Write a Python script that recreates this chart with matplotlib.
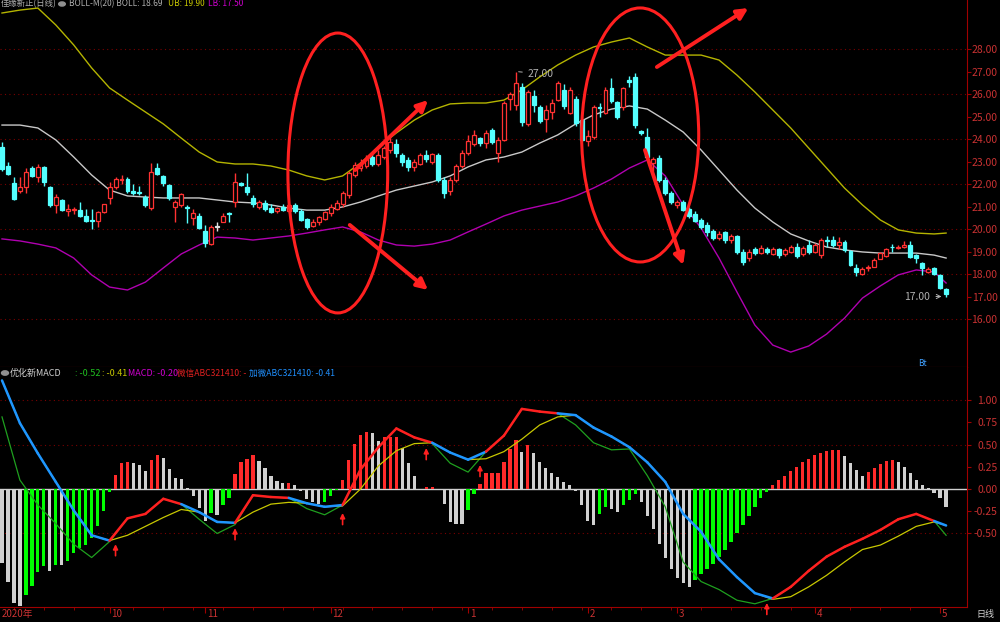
import numpy as np
import matplotlib
matplotlib.use('Agg')
import matplotlib.pyplot as plt
from matplotlib.patches import Ellipse
from matplotlib.collections import LineCollection
from matplotlib.transforms import blended_transform_factory

# ---- daily candles ----
opens = [23.64, 22.80, 22.04, 21.69, 21.87, 22.71, 22.31, 22.76, 21.87, 21.07,
         21.29, 20.82, 20.83, 20.84, 20.58, 20.40, 20.36, 20.76, 21.38, 21.87,
         22.18, 22.22, 21.70, 21.65, 21.42, 20.93, 22.71, 22.36, 21.96, 20.98,
         21.07, 21.00, 20.50, 20.58, 19.91, 19.33, 20.10, 20.33, 20.72, 21.20,
         22.04, 21.87, 21.40, 21.00, 21.15, 20.95, 20.80, 21.00, 20.80, 21.05,
         20.80, 20.45, 20.15, 20.30, 20.45, 20.70, 20.90, 21.10, 21.50, 22.40,
         22.70, 22.80, 23.20, 22.90, 23.20, 23.50, 23.80, 23.30, 23.05, 22.75,
         22.90, 23.30, 23.00, 23.30, 22.20, 21.70, 22.20, 22.80, 23.40, 23.80,
         24.04, 23.82, 24.40, 23.38, 23.96, 25.80, 25.50, 26.31, 24.67, 25.90,
         25.42, 24.89, 25.20, 25.73, 26.20, 25.16, 25.78, 24.84, 23.91, 24.09,
         25.42, 25.16, 26.27, 25.64, 25.42, 26.62, 26.76, 24.35, 24.09, 22.95,
         23.15, 22.20, 21.60, 21.05, 21.20, 20.90, 20.65, 20.40, 20.20, 19.90,
         19.60, 19.85, 19.50, 19.70, 19.00, 18.70, 19.10, 18.95, 19.10, 18.90,
         19.10, 18.90, 19.00, 19.20, 18.90, 19.30, 19.00, 18.84, 19.52, 19.50,
         19.29, 19.42, 19.02, 18.27, 18.00, 18.27, 18.31, 18.67, 18.80, 19.20,
         19.15, 19.22, 19.29, 18.84, 18.49, 18.09, 18.27, 17.96, 17.33]
highs = [23.85, 23.00, 22.30, 22.30, 22.70, 22.80, 22.90, 22.80, 21.90, 21.55,
         21.35, 21.10, 21.00, 21.20, 20.90, 20.90, 20.80, 21.10, 22.10, 22.30,
         22.40, 22.30, 22.00, 21.90, 21.50, 22.93, 22.93, 22.40, 22.00, 21.30,
         21.60, 21.05, 20.90, 20.70, 20.20, 20.20, 20.30, 20.70, 20.75, 22.50,
         22.10, 22.50, 21.50, 21.30, 21.30, 21.10, 21.00, 21.10, 21.10, 21.15,
         20.90, 20.50, 20.45, 20.60, 20.80, 21.10, 21.30, 21.70, 22.60, 23.00,
         23.10, 23.30, 23.40, 23.50, 23.70, 24.10, 24.00, 23.40, 23.20, 23.10,
         23.40, 23.50, 23.40, 23.40, 22.30, 22.30, 22.90, 23.50, 24.20, 24.40,
         24.10, 24.40, 24.50, 24.10, 25.70, 26.10, 27.00, 26.50, 26.20, 26.20,
         25.50, 25.50, 25.80, 26.60, 26.45, 26.30, 25.90, 24.90, 24.40, 25.50,
         25.60, 26.30, 26.70, 25.70, 26.30, 26.78, 26.95, 24.40, 24.50, 23.20,
         23.30, 22.30, 21.70, 21.30, 21.30, 21.00, 20.80, 20.50, 20.30, 20.00,
         19.90, 19.90, 19.80, 19.75, 19.10, 19.10, 19.20, 19.30, 19.20, 19.20,
         19.15, 19.15, 19.30, 19.40, 19.25, 19.50, 19.40, 19.60, 19.70, 19.70,
         19.65, 19.50, 19.05, 18.45, 18.30, 18.40, 18.70, 19.00, 19.15, 19.35,
         19.30, 19.45, 19.45, 18.90, 18.55, 18.30, 18.30, 17.98, 17.40]
lows = [22.60, 22.40, 21.30, 21.60, 21.60, 22.30, 22.10, 21.90, 21.00, 20.70,
        20.80, 20.60, 20.65, 20.55, 20.30, 20.00, 20.10, 20.70, 21.10, 21.80,
        22.00, 21.60, 21.50, 21.50, 21.00, 20.84, 22.40, 21.90, 21.30, 20.30,
        21.00, 20.27, 20.20, 20.00, 19.20, 19.30, 19.90, 20.30, 20.33, 21.00,
        21.90, 21.50, 21.00, 20.90, 20.80, 20.70, 20.70, 20.80, 20.70, 20.70,
        20.35, 20.00, 20.10, 20.20, 20.40, 20.60, 20.85, 21.00, 21.40, 22.30,
        22.60, 22.70, 22.80, 22.80, 23.10, 23.40, 23.20, 22.80, 22.60, 22.60,
        22.85, 23.00, 22.90, 22.10, 21.40, 21.50, 22.10, 22.70, 23.30, 23.70,
        23.70, 23.60, 23.80, 23.00, 23.90, 25.30, 25.30, 24.60, 24.60, 25.20,
        24.70, 24.30, 24.90, 25.70, 25.35, 25.10, 24.60, 23.90, 23.70, 24.00,
        25.00, 25.10, 25.60, 24.90, 25.30, 26.30, 24.50, 24.20, 23.10, 22.60,
        22.10, 21.50, 21.10, 20.95, 20.80, 20.50, 20.30, 20.00, 19.70, 19.50,
        19.50, 19.40, 19.40, 18.90, 18.40, 18.60, 18.85, 18.90, 18.90, 18.85,
        18.70, 18.80, 18.95, 18.70, 18.80, 18.90, 18.95, 18.70, 19.20, 19.20,
        19.10, 19.00, 18.35, 17.90, 17.95, 18.15, 18.30, 18.65, 18.75, 19.00,
        19.10, 19.15, 18.70, 18.50, 17.95, 18.05, 17.95, 17.35, 17.00]
closes = [22.67, 22.44, 21.33, 21.87, 22.53, 22.36, 22.76, 22.09, 21.07, 21.42,
          20.84, 20.87, 20.87, 20.58, 20.36, 20.36, 20.76, 21.11, 21.87, 22.22,
          22.22, 21.69, 21.60, 21.58, 21.07, 22.53, 22.44, 22.04, 21.38, 21.20,
          21.56, 20.93, 20.71, 20.04, 19.38, 20.09, 20.10, 20.58, 20.66, 22.09,
          21.96, 21.64, 21.10, 21.20, 20.90, 20.75, 20.95, 20.85, 21.05, 20.80,
          20.40, 20.10, 20.30, 20.55, 20.75, 21.00, 21.15, 21.60, 22.50, 22.85,
          22.95, 23.15, 22.90, 23.30, 23.60, 23.85, 23.40, 23.00, 22.75, 23.00,
          23.30, 23.10, 23.35, 22.20, 21.60, 22.20, 22.80, 23.40, 23.90, 24.20,
          23.82, 24.27, 23.87, 23.96, 25.60, 26.00, 26.50, 24.76, 26.09, 25.50,
          24.80, 25.29, 25.60, 26.50, 25.47, 26.20, 24.71, 23.96, 24.13, 25.42,
          25.36, 26.18, 25.69, 24.98, 26.27, 26.55, 24.62, 24.25, 23.20, 23.10,
          22.20, 21.60, 21.20, 21.20, 20.85, 20.60, 20.35, 20.10, 19.85, 19.60,
          19.80, 19.50, 19.70, 19.00, 18.55, 19.00, 18.95, 19.15, 19.00, 19.10,
          18.85, 19.05, 19.20, 18.80, 19.15, 19.00, 19.30, 19.51, 19.48, 19.30,
          19.42, 19.07, 18.40, 18.09, 18.22, 18.33, 18.62, 18.93, 19.10, 19.18,
          19.22, 19.27, 18.76, 18.71, 18.27, 18.22, 18.00, 17.38, 17.11]

# ---- BOLL lines and MACD lines, read every 3 bars ----
line_idx = list(range(0, 157, 3)) + [158]
boll_up = [29.60, 29.73, 29.82, 29.07, 28.18, 27.16, 26.27, 25.73, 25.20, 24.67,
           24.04, 23.42, 22.98, 22.89, 22.89, 22.80, 22.62, 22.36, 22.18, 22.36,
           22.93, 23.64, 24.27, 24.84, 25.29, 25.56, 25.60, 25.60, 25.73, 26.18,
           26.76, 27.29, 27.73, 28.09, 28.31, 28.49, 28.09, 27.73, 27.73, 27.73,
           27.51, 26.84, 26.09, 25.29, 24.49, 23.60, 22.71, 21.82, 21.07, 20.40,
           19.96, 19.82, 19.78, 19.82]
boll_mid = [24.62, 24.62, 24.49, 23.96, 23.20, 22.40, 21.73, 21.47, 21.42, 21.38,
            21.38, 21.38, 21.29, 21.20, 21.16, 21.07, 20.93, 20.84, 20.84, 20.98,
            21.20, 21.47, 21.73, 21.91, 22.09, 22.36, 22.76, 23.07, 23.20, 23.42,
            23.82, 24.18, 24.67, 25.07, 25.33, 25.47, 25.33, 24.84, 24.31, 23.51,
            22.62, 21.73, 20.93, 20.31, 19.78, 19.47, 19.20, 19.07, 18.98, 18.93,
            18.93, 18.93, 18.84, 18.71]
boll_low = [19.56, 19.47, 19.33, 19.16, 18.71, 17.96, 17.42, 17.29, 17.64, 18.27,
            18.89, 19.29, 19.64, 19.60, 19.51, 19.60, 19.69, 19.82, 19.96, 20.09,
            19.87, 19.51, 19.29, 19.24, 19.33, 19.51, 19.87, 20.22, 20.58, 20.84,
            21.02, 21.20, 21.47, 21.82, 22.22, 22.71, 23.07, 22.36, 21.07, 20.04,
            18.71, 17.20, 15.73, 14.84, 14.53, 14.80, 15.33, 16.04, 16.93, 17.47,
            17.96, 18.18, 18.09, 17.60]
macd_green = [0.81, 0.10, -0.18, -0.39, -0.62, -0.77, -0.59, -0.33, -0.28, -0.11,
              -0.17, -0.34, -0.50, -0.40, -0.07, -0.09, -0.10, -0.22, -0.29, -0.18,
              0.22, 0.47, 0.68, 0.58, 0.51, 0.29, 0.19, 0.42, 0.60, 0.90,
              0.87, 0.85, 0.72, 0.52, 0.44, 0.45, 0.15, -0.20, -0.82, -1.04,
              -1.13, -1.25, -1.29, -1.23, -1.10, -0.92, -0.76, -0.65, -0.56, -0.46,
              -0.34, -0.28, -0.36, -0.52]
macd_yellow = [1.22, 0.74, 0.40, 0.08, -0.24, -0.52, -0.58, -0.52, -0.42, -0.32,
               -0.23, -0.26, -0.37, -0.38, -0.26, -0.17, -0.15, -0.16, -0.20, -0.19,
               0.00, 0.26, 0.43, 0.51, 0.52, 0.41, 0.33, 0.34, 0.42, 0.56,
               0.72, 0.81, 0.83, 0.69, 0.59, 0.47, 0.30, 0.08, -0.28, -0.48,
               -0.79, -0.99, -1.17, -1.24, -1.21, -1.10, -0.97, -0.82, -0.68, -0.63,
               -0.53, -0.42, -0.37, -0.41]
macd_hist = [-0.83, -1.04, -1.28, -1.31, -1.19, -1.09, -0.93, -0.87, -0.92, -0.85,
             -0.85, -0.81, -0.72, -0.66, -0.63, -0.55, -0.42, -0.25, -0.03, 0.16,
             0.29, 0.30, 0.29, 0.27, 0.20, 0.33, 0.38, 0.35, 0.23, 0.12,
             0.11, 0.01, -0.08, -0.21, -0.36, -0.27, -0.29, -0.18, -0.10, 0.17,
             0.30, 0.34, 0.38, 0.32, 0.24, 0.15, 0.09, 0.07, 0.07, 0.04,
             -0.02, -0.11, -0.15, -0.17, -0.15, -0.08, -0.01, 0.10, 0.33, 0.51,
             0.61, 0.64, 0.63, 0.54, 0.58, 0.58, 0.58, 0.46, 0.29, 0.15,
             0.00, 0.02, 0.02, -0.01, -0.17, -0.37, -0.39, -0.39, -0.24, -0.06,
             0.06, 0.18, 0.18, 0.18, 0.30, 0.45, 0.55, 0.42, 0.50, 0.40,
             0.30, 0.24, 0.18, 0.14, 0.08, 0.05, -0.02, -0.18, -0.36, -0.40,
             -0.28, -0.20, -0.22, -0.26, -0.18, -0.12, -0.06, -0.15, -0.30, -0.45,
             -0.62, -0.78, -0.90, -1.00, -1.06, -1.10, -1.02, -0.96, -0.90, -0.84,
             -0.76, -0.68, -0.60, -0.50, -0.40, -0.30, -0.20, -0.10, -0.03, 0.05,
             0.10, 0.15, 0.20, 0.25, 0.30, 0.34, 0.38, 0.40, 0.43, 0.44,
             0.44, 0.37, 0.29, 0.21, 0.15, 0.19, 0.24, 0.28, 0.31, 0.33,
             0.30, 0.25, 0.18, 0.10, 0.05, 0.01, -0.04, -0.10, -0.20]
cross_idx = [19, 39, 57, 71, 80, 128]
cross_val = [-0.62, -0.44, -0.27, 0.46, 0.27, -1.28]

month_idx = [18, 34, 55, 78, 98, 113, 136, 157]
month_lbl = ['10', '11', '12', '1', '2', '3', '4', '5']

UP = '#ff3232'
DOWN = '#54ffff'
DOJI = '#e0e0e0'
AXIS = '#a00000'
LABEL = '#c83232'
GRID = '#7a0000'
MARK = '#ff2020'
NARROW = ['Liberation Sans Narrow', 'Noto Sans CJK SC', 'DejaVu Sans']

fig = plt.figure(figsize=(10, 6.22), dpi=100, facecolor='black')
ax = fig.add_axes([0, 1 - 367 / 622, 0.967, 367 / 622])
axm = fig.add_axes([0, 15 / 622, 0.967, 240 / 622])
for a in (ax, axm):
    a.set_facecolor('black')
    a.set_xlim(-0.335, 161.5)
    a.spines['left'].set_visible(False)
    a.spines['top'].set_visible(False)
    a.spines['right'].set_color(AXIS)
    a.spines['bottom'].set_color(AXIS)
    a.yaxis.tick_right()
    a.tick_params(axis='y', colors=AXIS, labelcolor=LABEL, length=3, pad=19)

# ---- price panel ----
ax.set_ylim(13.867, 30.178)
ax.set_yticks(range(16, 29))
ax.set_yticklabels([f'{v:.2f}' for v in range(16, 29)], family=NARROW,
                   fontsize=7.5, ha='right')
ax.set_xticks([])
for v in range(16, 29, 2):
    ax.axhline(v, color=GRID, lw=0.8, ls=(0, (1, 3)), zorder=0)

x = np.arange(len(closes))
o, h, l, c = map(np.array, (opens, highs, lows, closes))
up = c > o
cols = np.where(up, UP, np.where(c < o, DOWN, DOJI))
ax.vlines(x, l, h, colors=cols, lw=1, zorder=2)
ax.bar(x, np.maximum(np.abs(c - o), 0.03), bottom=np.minimum(o, c), width=0.66,
       color=np.where(up, 'black', cols), edgecolor=cols, linewidth=0.9, zorder=3)

ax.plot(line_idx, boll_up, color='#b4b400', lw=1, zorder=1.5)
ax.plot(line_idx, boll_mid, color='#c8c8c8', lw=1, zorder=1.5)
ax.plot(line_idx, boll_low, color='#b000b0', lw=1, zorder=1.5)

hi = int(np.argmax(h))
ax.annotate(f'{h[hi]:.2f}', xy=(hi, h[hi]), xytext=(hi + 2, h[hi] - 0.1),
            color='#b0b0b0', fontsize=7.5, family=NARROW, va='center',
            arrowprops=dict(arrowstyle='-', color='#b0b0b0', lw=0.7))
lo = int(np.argmin(l))
ax.annotate(f'{l[lo]:.2f}', xy=(lo - 0.3, l[lo]), xytext=(-10, 0),
            textcoords='offset points', color='#b0b0b0', fontsize=7.5,
            family=NARROW, ha='right', va='center',
            arrowprops=dict(arrowstyle='->', color='#b0b0b0', lw=0.7))

# hand-drawn marks
for cx, cy, w, hgt in [(56.2, 22.49, 16.7, 12.44), (106.8, 24.18, 19.6, 11.29)]:
    ax.add_patch(Ellipse((cx, cy), w, hgt, fill=False, ec=MARK, lw=2.2, zorder=6))
for tail, head in [((59.1, 22.62), (71.3, 25.73)), ((58.2, 20.18), (71.3, 17.29)),
                   ((109.6, 27.2), (124.9, 29.82)), ((107.6, 23.51), (114.0, 18.4))]:
    ax.annotate('', xy=head, xytext=tail, zorder=7,
                arrowprops=dict(arrowstyle='-|>', color=MARK, lw=2.8,
                                mutation_scale=16, shrinkA=0, shrinkB=0))

# ---- MACD panel ----
axm.set_ylim(-1.326, 1.371)
mt = [-0.5, -0.25, 0, 0.25, 0.5, 0.75, 1.0]
axm.set_yticks(mt)
axm.set_yticklabels([f'{v:.2f}' for v in mt], family=NARROW, fontsize=7.5,
                    ha='right')
for v in (-0.5, 0.5, 1.0):
    axm.axhline(v, color=GRID, lw=0.8, ls=(0, (1, 3)), zorder=0)
axm.axhline(0, color='#d0d0d0', lw=1, zorder=1)

hv = np.array(macd_hist)
prev = np.concatenate([[hv[0]], hv[:-1]])
hcol = np.where(hv >= 0, np.where(hv >= prev, '#ff2a2a', '#d0d0d0'),
                np.where(hv > prev, '#00ff00', '#d0d0d0'))
axm.bar(x, hv, width=0.55, color=hcol, zorder=2)

bi = np.array(line_idx)
g = np.array(macd_green)
yl = np.array(macd_yellow)
axm.plot(bi, g, color='#1fa01f', lw=0.9, zorder=3)
axm.plot(bi, yl, color='#c8c800', lw=0.9, zorder=3)
thick = np.maximum(g, yl)
pts = np.column_stack([bi, thick])
segs = np.stack([pts[:-1], pts[1:]], axis=1)
above = (g[:-1] + g[1:]) >= (yl[:-1] + yl[1:])
axm.add_collection(LineCollection(segs, colors=np.where(above, '#ff2020', '#1e96ff'),
                                  linewidths=1.8, capstyle='round', zorder=4))
for ci, cv in zip(cross_idx, cross_val):
    axm.annotate('', xy=(ci, cv), xytext=(ci, cv - 0.13), zorder=5,
                 arrowprops=dict(arrowstyle='-|>', color=MARK, lw=1.2,
                                 mutation_scale=7, shrinkA=0, shrinkB=0))

axm.set_xticks(month_idx)
axm.set_xticklabels([])
axm.set_xticks(range(2, 159, 5), minor=True)
axm.tick_params(axis='x', which='major', colors=AXIS, length=4)
axm.tick_params(axis='x', which='minor', colors=AXIS, length=2)
tr = blended_transform_factory(axm.transData, axm.transAxes)
axm.text(0, -0.03, '2020年', transform=tr, family=NARROW, fontsize=7,
         color=LABEL, ha='left', va='center')
for mi, lbl in zip(month_idx, month_lbl):
    axm.text(mi + 0.3, -0.03, lbl, transform=tr, family=NARROW, fontsize=7,
             color=LABEL, ha='left', va='center')

# ---- headers ----
def ftext(px, py, s, col, size=6.5):
    fig.text(px / 1000, 1 - py / 622, s, color=col, fontsize=size,
             family=NARROW, ha='left', va='center')

ftext(1, 4, '佳缘新正(日线)', '#b0b0b0', size=6)
fig.patches.append(plt.Circle((62 / 1000, 1 - 4 / 622), 0.0033,
                              transform=fig.transFigure, color='#909090'))
ftext(69, 4, 'BOLL-M(20) BOLL: 18.69', '#b0b0b0', size=6)
ftext(168, 4, 'UB: 19.90', '#c8c800', size=6)
ftext(208, 4, 'LB: 17.50', '#d000d0', size=6)

fig.patches.append(plt.Circle((5 / 1000, 1 - 373 / 622), 0.0035,
                              transform=fig.transFigure, color='#909090'))
ftext(10, 373, '优化新MACD', '#d0d0d0')
ftext(75, 373, ': -0.52', '#20c020')
ftext(102, 373, ': -0.41', '#c8c800')
ftext(128, 373, 'MACD: -0.20', '#d000d0')
ftext(177, 373, '微信ABC321410: -', '#e02020', size=6.2)
ftext(249, 373, '加微ABC321410: -0.41', '#2090ff', size=6.2)
ftext(918, 363, 'Bt', '#40a0ff', size=6)
ftext(976, 615, '日线', '#d0d0d0')

fig.savefig('out.png', dpi=100, facecolor='black')
